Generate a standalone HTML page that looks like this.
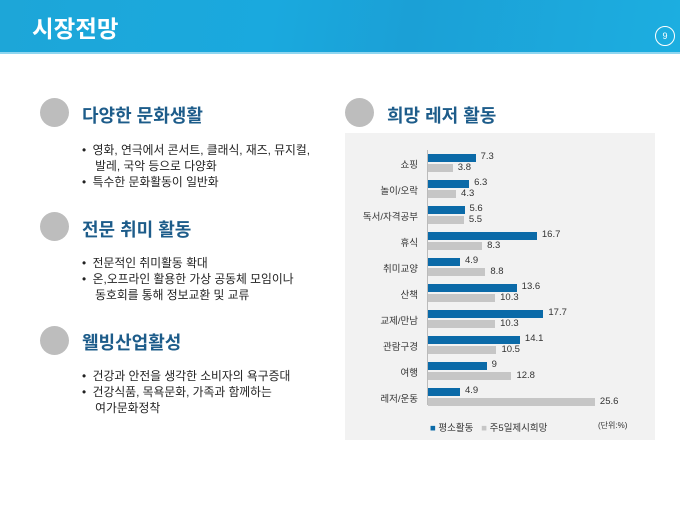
<!DOCTYPE html><html><head><meta charset="utf-8"><style>
body{margin:0;width:680px;height:510px;background:#fff;position:relative;overflow:hidden;font-family:"Liberation Sans","Noto Sans CJK KR",sans-serif}
.hdr{position:absolute;left:0;top:0;width:680px;height:52px;background:linear-gradient(100deg,#1da6d8 0%,#1aa9de 40%,#1ba0d6 60%,#1caee0 100%);border-bottom:2px solid #8fd6f0}
.hdr .t{position:absolute;left:32px;top:10px;color:#fff;font-size:23.5px;font-weight:bold}
.hdr .n{position:absolute;left:655px;top:26px;width:18px;height:18px;border:1px solid #fff;border-radius:50%;color:#fff;font-size:9px;text-align:center;line-height:18px}
.c{position:absolute;width:29px;height:29px;border-radius:50%;background:#bdbdbd}
.h{position:absolute;font-size:18px;font-weight:bold;color:#1d5c8a}
.b{position:absolute;font-size:11.8px;color:#222;line-height:16px}
.panel{position:absolute;left:345px;top:133px;width:310px;height:307px;background:#f2f2f2}
.lab{position:absolute;font-size:9.5px;color:#333;text-align:right;width:80px}
.v{position:absolute;font-size:9.5px;color:#333}
</style></head><body>
<div class="hdr"><div class="t">시장전망</div><div class="n">9</div></div>
<div class="c" style="left:40px;top:98px"></div><div class="h" style="left:82px;top:102px">다양한 문화생활</div>
<div class="b" style="left:82px;top:142px">•&nbsp; 영화, 연극에서 콘서트, 클래식, 재즈, 뮤지컬,<br>&nbsp;&nbsp;&nbsp; 발레, 국악 등으로 다양화<br>•&nbsp; 특수한 문화활동이 일반화</div>
<div class="c" style="left:40px;top:212px"></div><div class="h" style="left:82px;top:216px">전문 취미 활동</div>
<div class="b" style="left:82px;top:255px">•&nbsp; 전문적인 취미활동 확대<br>•&nbsp; 온,오프라인 활용한 가상 공동체 모임이나<br>&nbsp;&nbsp;&nbsp; 동호회를 통해 정보교환 및 교류</div>
<div class="c" style="left:40px;top:326px"></div><div class="h" style="left:82px;top:329px">웰빙산업활성</div>
<div class="b" style="left:82px;top:368px">•&nbsp; 건강과 안전을 생각한 소비자의 욕구증대<br>•&nbsp; 건강식품, 목욕문화, 가족과 함께하는<br>&nbsp;&nbsp;&nbsp; 여가문화정착</div>
<div class="c" style="left:345px;top:98px"></div><div class="h" style="left:387px;top:102px">희망 레저 활동</div>
<div class="panel"></div>
<div style="position:absolute;left:427px;top:150px;width:1px;height:255px;background:#bbb"></div>
<div id="ch"></div>
<div style="position:absolute;left:430px;top:420px;font-size:9.5px;color:#333"><span style="color:#0b6aa8">■</span> 평소활동 &nbsp;&nbsp;<span style="color:#c6c6c6">■</span> 주5일제시희망</div>
<div style="position:absolute;left:598px;top:420px;font-size:8px;color:#333">(단위:%)</div>
<script>
var d=[["쇼핑",7.3,3.8],["놀이/오락",6.3,4.3],["독서/자격공부",5.6,5.5],["휴식",16.7,8.3],["취미교양",4.9,8.8],["산책",13.6,10.3],["교제/만남",17.7,10.3],["관람구경",14.1,10.5],["여행",9,12.8],["레저/운동",4.9,25.6]];
var h="";d.forEach(function(r,i){var y=154+i*26,s=6.52;
h+='<div class="lab" style="left:338px;top:'+(y+3)+'px">'+r[0]+'</div>';
h+='<div style="position:absolute;left:428px;top:'+y+'px;width:'+(r[1]*s)+'px;height:8px;background:#0b6aa8"></div>';
h+='<div class="v" style="left:'+(433+r[1]*s)+'px;top:'+(y-3)+'px">'+r[1]+'</div>';
h+='<div style="position:absolute;left:428px;top:'+(y+10)+'px;width:'+(r[2]*s)+'px;height:8px;background:#c6c6c6"></div>';
h+='<div class="v" style="left:'+(433+r[2]*s)+'px;top:'+(y+8)+'px">'+r[2]+'</div>';});
document.getElementById("ch").innerHTML=h;
</script>
</body></html>
